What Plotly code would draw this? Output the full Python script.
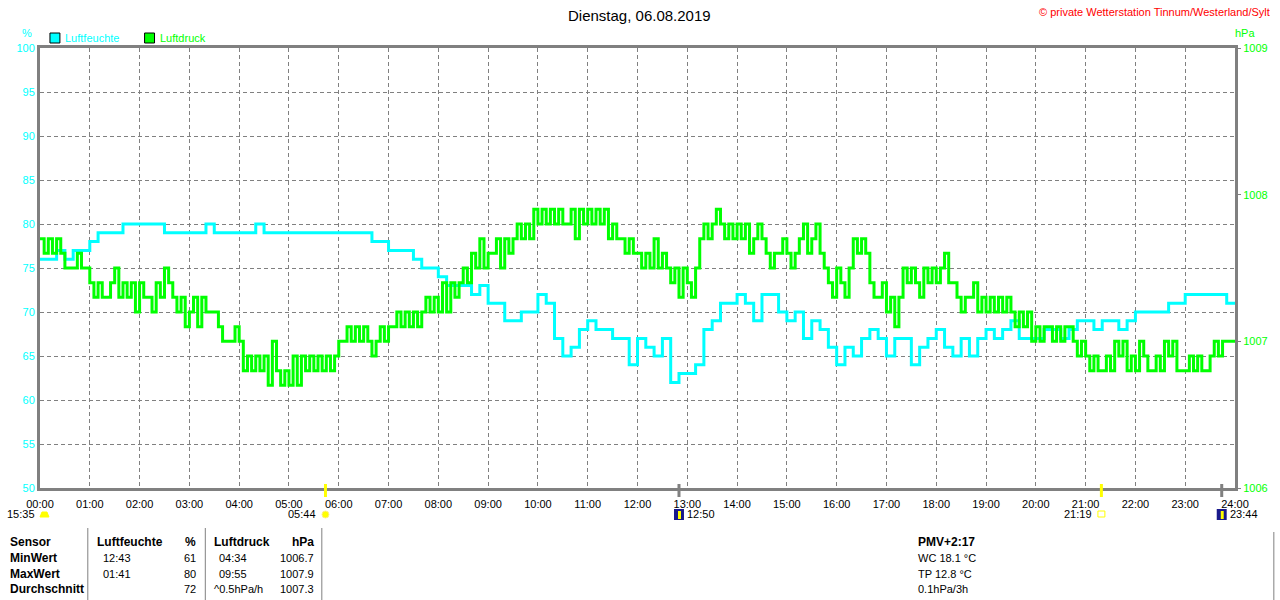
import plotly.graph_objects as go

# ---------------------------------------------------------------
# Daten (abgelesen aus der Tagesgrafik 06.08.2019)
# ---------------------------------------------------------------
title_text = "Dienstag, 06.08.2019"
copyright_text = "© private Wetterstation Tinnum/Westerland/Sylt"
hour_labels = [f"{h:02d}:00" for h in range(25)]

# Luftfeuchte in %, alle 10 Minuten ab 00:00
humidity_step_min = 10
humidity = [
    76, 76, 77, 76, 77, 77, 78, 79, 79, 79, 80, 80, 80, 80, 80, 79, 79, 79,
    79, 79, 80, 79, 79, 79, 79, 79, 80, 79, 79, 79, 79, 79, 79, 79, 79, 79,
    79, 79, 79, 79, 78, 78, 77, 77, 77, 76, 75, 75, 74, 73, 73, 73, 72, 73,
    71, 71, 69, 69, 70, 70, 72, 71, 67, 65, 66, 68, 69, 68, 68, 67, 67, 64,
    67, 66, 65, 67, 62, 63, 63, 64, 68, 69, 71, 71, 72, 71, 69, 72, 72, 70,
    69, 70, 67, 69, 68, 66, 64, 66, 65, 67, 68, 67, 65, 67, 67, 64, 66, 67,
    68, 66, 65, 67, 65, 67, 68, 67, 68, 69, 67, 67, 67, 68, 68, 67, 68, 69,
    69, 68, 69, 69, 68, 69, 70, 70, 70, 70, 71, 71, 72, 72, 72, 72, 72, 71,
    71,
]

# Luftdruck in hPa, alle 5 Minuten ab 00:00
pressure_step_min = 5
pressure = [
    # 00:00 - 06:00
    1007.7, 1007.6, 1007.7, 1007.6, 1007.7, 1007.6, 1007.5, 1007.5, 1007.5, 1007.6, 1007.5, 1007.5,
    1007.4, 1007.3, 1007.4, 1007.3, 1007.3, 1007.4, 1007.5, 1007.3, 1007.4, 1007.3, 1007.4, 1007.2,
    1007.4, 1007.3, 1007.3, 1007.2, 1007.4, 1007.3, 1007.5, 1007.4, 1007.3, 1007.2, 1007.3, 1007.1,
    1007.2, 1007.3, 1007.1, 1007.3, 1007.2, 1007.2, 1007.2, 1007.1, 1007.0, 1007.0, 1007.0, 1007.1,
    1007.0, 1006.8, 1006.9, 1006.8, 1006.9, 1006.8, 1006.9, 1006.7, 1007.0, 1006.8, 1006.7, 1006.8,
    1006.7, 1006.9, 1006.7, 1006.9, 1006.8, 1006.9, 1006.8, 1006.9, 1006.8, 1006.9, 1006.8, 1006.9,
    # 06:00 - 12:00
    1007.0, 1007.0, 1007.1, 1007.0, 1007.1, 1007.0, 1007.1, 1007.0, 1006.9, 1007.0, 1007.1, 1007.0,
    1007.1, 1007.1, 1007.2, 1007.1, 1007.2, 1007.1, 1007.2, 1007.1, 1007.2, 1007.3, 1007.2, 1007.3,
    1007.2, 1007.4, 1007.2, 1007.4, 1007.3, 1007.4, 1007.5, 1007.4, 1007.6, 1007.5, 1007.7, 1007.5,
    1007.6, 1007.6, 1007.7, 1007.5, 1007.7, 1007.6, 1007.7, 1007.8, 1007.7, 1007.8, 1007.7, 1007.9,
    1007.8, 1007.9, 1007.8, 1007.9, 1007.8, 1007.9, 1007.8, 1007.8, 1007.9, 1007.7, 1007.9, 1007.8,
    1007.9, 1007.8, 1007.9, 1007.8, 1007.9, 1007.7, 1007.8, 1007.7, 1007.7, 1007.6, 1007.7, 1007.6,
    # 12:00 - 18:00
    1007.6, 1007.5, 1007.6, 1007.5, 1007.7, 1007.5, 1007.6, 1007.5, 1007.4, 1007.5, 1007.3, 1007.5,
    1007.4, 1007.3, 1007.5, 1007.7, 1007.8, 1007.7, 1007.8, 1007.9, 1007.8, 1007.7, 1007.8, 1007.7,
    1007.8, 1007.7, 1007.8, 1007.6, 1007.7, 1007.8, 1007.7, 1007.6, 1007.5, 1007.6, 1007.6, 1007.7,
    1007.6, 1007.5, 1007.6, 1007.7, 1007.8, 1007.6, 1007.7, 1007.8, 1007.6, 1007.5, 1007.4, 1007.3,
    1007.5, 1007.4, 1007.3, 1007.5, 1007.7, 1007.6, 1007.7, 1007.6, 1007.4, 1007.3, 1007.3, 1007.4,
    1007.2, 1007.3, 1007.1, 1007.3, 1007.5, 1007.4, 1007.5, 1007.4, 1007.3, 1007.5, 1007.4, 1007.5,
    # 18:00 - 24:00
    1007.4, 1007.5, 1007.6, 1007.4, 1007.4, 1007.3, 1007.2, 1007.3, 1007.3, 1007.4, 1007.2, 1007.3,
    1007.2, 1007.3, 1007.2, 1007.3, 1007.2, 1007.3, 1007.2, 1007.1, 1007.2, 1007.1, 1007.2, 1007.0,
    1007.1, 1007.0, 1007.1, 1007.1, 1007.0, 1007.1, 1007.0, 1007.1, 1007.1, 1007.0, 1006.9, 1007.0,
    1006.9, 1006.8, 1006.9, 1006.8, 1006.8, 1006.9, 1006.8, 1007.0, 1006.9, 1007.0, 1006.8, 1006.9,
    1006.8, 1007.0, 1006.9, 1006.8, 1006.8, 1006.9, 1006.8, 1007.0, 1006.9, 1007.0, 1006.8, 1006.8,
    1006.8, 1006.9, 1006.8, 1006.9, 1006.8, 1006.8, 1006.9, 1007.0, 1006.9, 1007.0, 1007.0, 1007.0,
    1007.0,
]

# Sonne / Mond Ereignisse unter der Zeitachse
event_labels = ["05:44", "12:50", "21:19", "23:44"]
event_colors = ["#ffff00", "#808080", "#ffff00", "#808080"]
event_text_side = ["left", "right", "left", "right"]
moon_prev_label = "15:35"

# Tabelle unten
stat_labels = ["MinWert", "MaxWert", "Durchschnitt"]
hum_stat_times = ["12:43", "01:41", ""]
hum_stat_values = ["61", "80", "72"]
pres_stat_times = ["04:34", "09:55", "^0.5hPa/h"]
pres_stat_values = ["1006.7", "1007.9", "1007.3"]
extra_lines = ["PMV+2:17", "WC 18.1 °C", "TP 12.8 °C", "0.1hPa/3h"]

CYAN = "#00ffff"
GREEN = "#00ff00"
GRAY = "#808080"
FONT = "Liberation Sans"

hum_x = [i * humidity_step_min / 60 for i in range(len(humidity))]
pres_x = [i * pressure_step_min / 60 for i in range(len(pressure))]


# Pixel -> paper Umrechnung (Plotfläche 40..1240 x 48..488)
def px(x):
    return (x - 40) / 1200


def py(y):
    return (488 - y) / 440


def to_hours(s):
    h, m = s.split(":")
    return int(h) + int(m) / 60


fig = go.Figure()

fig.add_trace(go.Scatter(
    x=pres_x, y=pressure, yaxis="y2",
    mode="lines", line=dict(color=GREEN, width=3, shape="hv"),
    name="Luftdruck", hoverinfo="x+y"
))
fig.add_trace(go.Scatter(
    x=hum_x, y=humidity,
    mode="lines", line=dict(color=CYAN, width=3, shape="hv"),
    name="Luftfeuchte", hoverinfo="x+y"
))

shapes = []
annotations = []


def label(x, y, text, color="black", size=11, anchor="left", bold=False, xref="paper"):
    annotations.append(dict(x=x, y=py(y), xref=xref, yref="paper", text=text,
                            xanchor=anchor, yanchor="middle", showarrow=False,
                            font=dict(size=size, color=color, family=FONT,
                                      weight="bold" if bold else "normal")))


# Titel, Copyright, Achsentitel
label(px(642), 15, title_text, size=15, anchor="center")
label(px(1277), 12, copyright_text, color="red", anchor="right")
label(px(27), 33, "%", color=CYAN, anchor="center")
label(px(1250), 33, "hPa", color=GREEN, anchor="center")

# Legende
for x0, col, name in [(50, CYAN, "Luftfeuchte"), (145, GREEN, "Luftdruck")]:
    shapes.append(dict(type="rect", xref="paper", yref="paper", x0=px(x0), x1=px(x0 + 10),
                       y0=py(43), y1=py(33), fillcolor=col, line=dict(color="black", width=1)))
    label(px(x0 + 13), 38, name, color=col)

# Ereignisse (Sonnenauf-/untergang, Mond)
for i, (ev, col, side) in enumerate(zip(event_labels, event_colors, event_text_side)):
    t = to_hours(ev)
    shapes.append(dict(type="line", xref="x", yref="paper", x0=t, x1=t, y0=py(484), y1=py(497),
                       line=dict(color=col, width=3)))
    if col == "#ffff00" and i == 0:
        shapes.append(dict(type="circle", xref="x", yref="paper", x0=t - 0.07, x1=t + 0.07,
                           y0=py(518), y1=py(511), fillcolor="#ffff00",
                           line=dict(color="#ffee88", width=1)))
    elif col == "#ffff00":
        shapes.append(dict(type="rect", xref="x", yref="paper", x0=t - 0.07, x1=t + 0.07,
                           y0=py(517), y1=py(511), fillcolor="white",
                           line=dict(color="#ffff00", width=1)))
    else:
        shapes.append(dict(type="rect", xref="x", yref="paper", x0=t - 0.1, x1=t + 0.1,
                           y0=py(520), y1=py(509), fillcolor="#1a1a8c", line=dict(width=0)))
        shapes.append(dict(type="rect", xref="x", yref="paper", x0=t - 0.02, x1=t + 0.04,
                           y0=py(519), y1=py(511), fillcolor="#ffff00", line=dict(width=0)))
    if side == "left":
        label(t - 0.15, 514, ev, anchor="right", xref="x")
    else:
        label(t + 0.12, 514, ev, anchor="left", xref="x")

# Mond vom Vortag links
label(px(37), 514, moon_prev_label, anchor="right")
shapes.append(dict(type="path", xref="paper", yref="paper",
                   path=f"M {px(40)},{py(517)} L {px(49)},{py(517)} L {px(47)},{py(512)} "
                        f"L {px(42)},{py(512)} Z",
                   fillcolor="#ffff00", line=dict(color="#ffff00", width=1)))

# Tabelle
rows_y = [542, 558, 574, 589]
label(px(8), rows_y[0], "Sensor", size=12, bold=True)
label(px(95), rows_y[0], "Luftfeuchte", size=12, bold=True)
label(px(199), rows_y[0], "%", size=12, anchor="right", bold=True)
label(px(213), rows_y[0], "Luftdruck", size=12, bold=True)
label(px(317), rows_y[0], "hPa", size=12, anchor="right", bold=True)
for i in range(3):
    y = rows_y[i + 1]
    label(px(8), y, stat_labels[i], size=12, bold=True)
    label(px(101), y, hum_stat_times[i])
    label(px(199), y, hum_stat_values[i], anchor="right")
    label(px(213 if i == 2 else 218), y, pres_stat_times[i])
    label(px(317), y, pres_stat_values[i], anchor="right")
for i, txt in enumerate(extra_lines):
    label(px(920), rows_y[i], txt, size=12 if i == 0 else 11, bold=(i == 0))

for xv in [88, 206, 323, 1279]:
    shapes.append(dict(type="line", xref="paper", yref="paper", x0=px(xv), x1=px(xv),
                       y0=py(528 if xv != 1279 else 532), y1=py(600), line=dict(color=GRAY, width=1)))

grid = dict(showgrid=True, gridcolor=GRAY, gridwidth=1, griddash="4px,3px",
            showline=True, linecolor=GRAY, linewidth=3, mirror=True, zeroline=False)

fig.update_layout(
    width=1280, height=600,
    margin=dict(l=40, r=40, t=48, b=112),
    paper_bgcolor="white", plot_bgcolor="white",
    showlegend=False,
    font=dict(family=FONT, size=11, color="black"),
    xaxis=dict(range=[0, 24], tickmode="array", tickvals=list(range(25)), ticktext=hour_labels,
               ticks="", ticklabelstandoff=4, tickfont=dict(size=11, color="black"), **grid),
    yaxis=dict(range=[50, 100], dtick=5, ticks="", tickfont=dict(size=11, color=CYAN), **grid),
    yaxis2=dict(range=[1006, 1009], overlaying="y", side="right", tickvals=[1006, 1007, 1008, 1009],
                ticks="outside", ticklen=5, tickcolor=GRAY, tickwidth=1, showgrid=False,
                zeroline=False, showline=False, tickfont=dict(size=11, color=GREEN)),
    shapes=shapes,
    annotations=annotations,
    hovermode="x unified",
)

fig.write_html("out.html", config={"displayModeBar": False},
               post_script="document.body.style.margin='0';")
